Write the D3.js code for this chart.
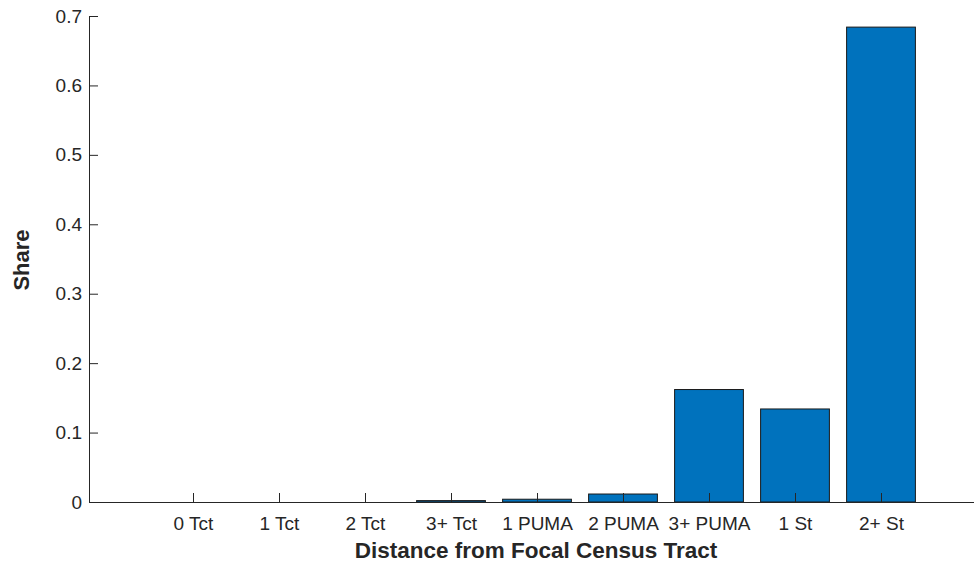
<!DOCTYPE html>
<html>
<head>
<meta charset="utf-8">
<script src="https://cdn.jsdelivr.net/npm/d3@7"></script>
<style>
  body { margin: 0; background: #fff; }
  text { font-family: "Liberation Sans", Arial, sans-serif; fill: #262626; }
</style>
</head>
<body>
<div id="chart"></div>
<script>
"use strict";

// data
var categories = ['0 Tct', '1 Tct', '2 Tct', '3+ Tct', '1 PUMA', '2 PUMA', '3+ PUMA', '1 St', '2+ St'];
var shares = [0, 0, 0, 0.002, 0.004, 0.0115, 0.162, 0.134, 0.684];
var yTicks = [0, 0.1, 0.2, 0.3, 0.4, 0.5, 0.6, 0.7];

var width = 974;
var height = 565;
var plotLeft = 89, plotTop = 16, plotBottom = 502;

var svg = d3.select('#chart')
  .append('svg')
  .attr('width', width)
  .attr('height', height);

// category positions (1..9), axis runs a bit past the window on the right
var x = d3.scaleLinear()
  .domain([1, 9])
  .range([193, 881]);

var y = d3.scaleLinear()
  .domain([0, 0.7])
  .range([plotBottom, plotTop]);

var barW = (x(2) - x(1)) * 0.8;

// bars
svg.selectAll('rect.bar')
  .data(shares)
  .enter()
  .append('rect')
  .attr('class', 'bar')
  .attr('x', function(d, i) { return x(i + 1) - barW / 2; })
  .attr('y', function(d) { return y(d); })
  .attr('width', barW)
  .attr('height', function(d) { return plotBottom - y(d); })
  .attr('fill', '#0072BD')
  .attr('stroke', '#1a1a1a')
  .attr('stroke-width', 1)
  .style('display', function(d) { return d > 0 ? null : 'none'; });

// y axis
var yAxis = d3.axisLeft(y)
  .tickValues(yTicks)
  .tickFormat(function(d) { return d === 0 ? '0' : d3.format('.1f')(d); })
  .tickSizeInner(-9)
  .tickSizeOuter(0)
  .tickPadding(7);

var gy = svg.append('g')
  .attr('transform', 'translate(' + plotLeft + ',0)')
  .call(yAxis);

// x axis
var xAxis = d3.axisBottom(x)
  .tickValues(d3.range(1, 10))
  .tickFormat(function(d) { return categories[d - 1]; })
  .tickSizeInner(-9)
  .tickSizeOuter(0)
  .tickPadding(15);

var gx = svg.append('g')
  .attr('transform', 'translate(0,' + plotBottom + ')')
  .call(xAxis);

// stretch x domain line from y axis to right edge
gx.select('.domain').attr('d', 'M' + plotLeft + ',0.5H' + width);
gy.select('.domain').attr('d', 'M0.5,' + plotTop + 'V' + plotBottom);

svg.selectAll('.domain, .tick line')
  .attr('stroke', '#262626')
  .attr('stroke-width', 1);

svg.selectAll('.tick text')
  .style('font-size', '19px')
  .attr('fill', '#262626');

// axis labels
svg.append('text')
  .attr('x', 536)
  .attr('y', 558)
  .attr('text-anchor', 'middle')
  .style('font-size', '22.5px')
  .style('font-weight', 'bold')
  .text('Distance from Focal Census Tract');

svg.append('text')
  .attr('transform', 'translate(29,260) rotate(-90)')
  .attr('text-anchor', 'middle')
  .style('font-size', '22px')
  .style('font-weight', 'bold')
  .text('Share');
</script>
</body>
</html>
